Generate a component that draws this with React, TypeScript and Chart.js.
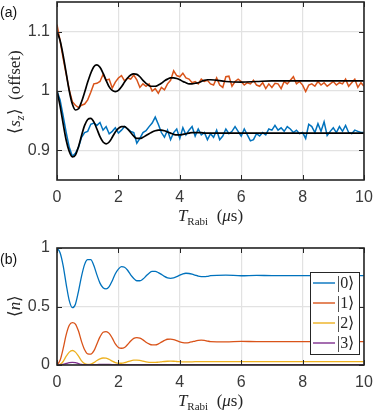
import React, { useEffect, useRef } from "react";
import { Chart, registerables } from "chart.js";
Chart.register(...registerables);

// ---- time grids ----
const tData: number[] = Array.from({ length: 101 }, (_, i) => i / 10);
const tFit: number[] = [
  0, 0.1, 0.2, 0.3, 0.4, 0.5, 0.6, 0.7, 0.8, 0.9, 1.0, 1.1, 1.2, 1.3, 1.4, 1.5, 1.6, 1.7, 1.8, 1.9,
  2.0, 2.1, 2.2, 2.3, 2.4, 2.5, 2.6, 2.7, 2.8, 2.9, 3.0, 3.1, 3.2, 3.3, 3.4, 3.5, 3.6, 3.7, 3.8, 3.9,
  4.0, 4.1, 4.2, 4.3, 4.4, 4.5, 4.6, 4.7, 4.8, 4.9, 5.0, 5.5, 6.0, 6.5, 7.0, 7.5, 8.0, 8.5, 9.0, 9.5, 10.0,
];

// ---- panel (a): measured <s_z> ----
const szOrange: number[] = [
  1.112, 1.085, 1.055, 1.028, 1.002, 0.982, 0.976, 0.972, 0.976, 0.978,
  0.985, 0.998, 1.012, 1.013, 1.016, 1.028, 1.018, 1.02, 1.005, 1.015,
  1.022, 1.026, 1.017, 1.022, 1.02, 1.027, 1.019, 1.006, 1.012, 1.008,
  1.012, 1.0, 1.004, 0.996, 1.006, 1.002, 1.012, 1.018, 1.034, 1.026,
  1.024, 1.03, 1.022, 1.02, 1.014, 1.016, 1.012, 1.02, 1.016, 1.018,
  1.012, 1.01, 1.022, 1.01, 1.006, 1.024, 1.025, 1.008, 1.016, 1.02,
  1.016, 1.01, 1.014, 1.012, 1.018, 1.01, 1.008, 1.014, 1.004, 1.012,
  1.006, 1.013, 1.012, 1.004, 1.016, 1.012, 1.018, 1.024, 1.012, 1.016,
  1.01, 0.999, 1.01, 1.012, 1.008, 1.016, 1.01, 1.014, 1.008, 1.012,
  1.016, 1.01, 1.014, 1.012, 1.02, 1.008, 1.014, 1.02, 1.006, 1.014, 1.008,
];
const szBlue: number[] = [
  1.0, 0.985, 0.958, 0.93, 0.905, 0.89, 0.895, 0.905, 0.922, 0.93,
  0.932, 0.944, 0.946, 0.942, 0.947, 0.934, 0.94, 0.928, 0.932, 0.938,
  0.929, 0.934, 0.94, 0.936, 0.932, 0.93, 0.912, 0.92, 0.93, 0.933,
  0.94, 0.946, 0.956, 0.944, 0.93, 0.922, 0.934, 0.918, 0.93, 0.936,
  0.92, 0.938, 0.926, 0.934, 0.94, 0.924, 0.936, 0.926, 0.93, 0.918,
  0.928, 0.922, 0.934, 0.918, 0.924, 0.936, 0.928, 0.932, 0.94, 0.932,
  0.924, 0.936, 0.926, 0.916, 0.918, 0.928, 0.924, 0.93, 0.926, 0.936,
  0.934, 0.942, 0.934, 0.938, 0.932, 0.94, 0.936, 0.93, 0.934, 0.928,
  0.93, 0.92, 0.944, 0.94, 0.93, 0.945, 0.932, 0.948, 0.925, 0.932,
  0.938, 0.93, 0.94, 0.932, 0.942, 0.93, 0.928, 0.934, 0.932, 0.93, 0.93,
];
const fitUpper: number[] = [
  1.1, 1.085, 1.06, 1.03, 1.0, 0.978, 0.968, 0.97, 0.982, 0.998,
  1.015, 1.03, 1.041, 1.044, 1.04, 1.03, 1.018, 1.007, 1.001, 0.999,
  1.001, 1.007, 1.015, 1.022, 1.027, 1.029, 1.028, 1.024, 1.018, 1.013,
  1.009, 1.008, 1.008, 1.01, 1.013, 1.017, 1.02, 1.022, 1.022, 1.021,
  1.019, 1.016, 1.014, 1.012, 1.012, 1.013, 1.014, 1.016, 1.018, 1.019,
  1.019, 1.016, 1.015, 1.016, 1.017, 1.017, 1.017, 1.017, 1.017, 1.017, 1.017,
];
const fitLower: number[] = [
  1.0, 0.975, 0.945, 0.917, 0.898, 0.889, 0.892, 0.906, 0.925, 0.942,
  0.952, 0.954, 0.948, 0.936, 0.923, 0.914, 0.911, 0.914, 0.922, 0.931,
  0.937, 0.94, 0.94, 0.936, 0.93, 0.924, 0.92, 0.92, 0.922, 0.925,
  0.928, 0.931, 0.933, 0.934, 0.934, 0.933, 0.931, 0.929, 0.927, 0.926,
  0.926, 0.927, 0.928, 0.929, 0.93, 0.93, 0.93, 0.93, 0.929, 0.929,
  0.929, 0.929, 0.929, 0.929, 0.929, 0.929, 0.929, 0.929, 0.929, 0.929, 0.929,
];

// ---- panel (b): populations ----
const pop0: number[] = [
  1.0, 0.96, 0.85, 0.69, 0.55, 0.49, 0.52, 0.63, 0.76, 0.86,
  0.9, 0.9, 0.85, 0.77, 0.7, 0.66, 0.65, 0.67, 0.72, 0.78,
  0.82, 0.84, 0.835, 0.81, 0.77, 0.74, 0.72, 0.72, 0.735, 0.76,
  0.785, 0.8, 0.8, 0.79, 0.775, 0.757, 0.745, 0.741, 0.745, 0.755,
  0.768, 0.779, 0.784, 0.782, 0.776, 0.768, 0.76, 0.756, 0.755, 0.758,
  0.763, 0.768, 0.763, 0.766, 0.764, 0.764, 0.764, 0.764, 0.764, 0.764, 0.764,
];
const pop1: number[] = [
  0.0, 0.04, 0.14, 0.26, 0.34, 0.362, 0.35, 0.29, 0.2, 0.13,
  0.095, 0.093, 0.12, 0.18, 0.24, 0.28, 0.285, 0.27, 0.23, 0.18,
  0.15, 0.143, 0.15, 0.175, 0.205, 0.228, 0.234, 0.23, 0.215, 0.195,
  0.18, 0.172, 0.172, 0.18, 0.195, 0.21, 0.22, 0.221, 0.217, 0.208,
  0.198, 0.191, 0.189, 0.192, 0.198, 0.205, 0.21, 0.212, 0.21, 0.205,
  0.2, 0.198, 0.202, 0.2, 0.2, 0.2, 0.2, 0.2, 0.2, 0.2, 0.2,
];
const pop2: number[] = [
  0.0, 0.005, 0.03, 0.075, 0.11, 0.124, 0.11, 0.075, 0.035, 0.012,
  0.006, 0.008, 0.02, 0.038, 0.053, 0.06, 0.058, 0.048, 0.033, 0.021,
  0.015, 0.015, 0.02, 0.028, 0.036, 0.041, 0.042, 0.039, 0.033, 0.027,
  0.023, 0.022, 0.022, 0.024, 0.027, 0.03, 0.032, 0.033, 0.032, 0.03,
  0.028, 0.027, 0.026, 0.026, 0.027, 0.028, 0.029, 0.029, 0.029, 0.028,
  0.028, 0.028, 0.028, 0.028, 0.028, 0.028, 0.028, 0.028, 0.028, 0.028, 0.028,
];
const pop3: number[] = [
  0.0, 0.001, 0.005, 0.013, 0.02, 0.023, 0.02, 0.012, 0.005, 0.002,
  0.001, 0.001, 0.002, 0.004, 0.005, 0.006, 0.006, 0.005, 0.004, 0.003,
  0.002, 0.002, 0.002, 0.003, 0.003, 0.003, 0.004, 0.004, 0.004, 0.003,
  0.003, 0.003, 0.003, 0.003, 0.003, 0.003, 0.003, 0.003, 0.003, 0.003,
  0.003, 0.003, 0.003, 0.003, 0.003, 0.003, 0.003, 0.003, 0.003, 0.003,
  0.003, 0.003, 0.003, 0.003, 0.003, 0.003, 0.003, 0.003, 0.003, 0.003, 0.003,
];
const popLabels: string[] = ["|0⟩", "|1⟩", "|2⟩", "|3⟩"];

const xTicks: number[] = [0, 2, 4, 6, 8, 10];
const yTicksA: number[] = [0.9, 1, 1.1];
const yTicksB: number[] = [0, 0.5, 1];

const BLUE = "#0072BD";
const ORANGE = "#D95319";
const YELLOW = "#EDB120";
const PURPLE = "#7E2F8E";
const AXIS = "#262626";
const TICKTXT = "#3a3a3a";
const GRID = "#e2e2e2";
const SANS = "'Liberation Sans', Arial, sans-serif";
const SERIF = "'Liberation Serif', 'Times New Roman', serif";

type Part = { text: string; font: string; dy?: number };

function richWidth(ctx: CanvasRenderingContext2D, parts: Part[]) {
  let w = 0;
  for (const p of parts) {
    ctx.font = p.font;
    w += ctx.measureText(p.text).width;
  }
  return w;
}
function drawRich(ctx: CanvasRenderingContext2D, parts: Part[], cx: number, cy: number, rot = 0) {
  ctx.save();
  ctx.translate(cx, cy);
  ctx.rotate(rot);
  ctx.fillStyle = AXIS;
  ctx.textBaseline = "alphabetic";
  ctx.textAlign = "left";
  let x = -richWidth(ctx, parts) / 2;
  for (const p of parts) {
    ctx.font = p.font;
    ctx.fillText(p.text, x, p.dy || 0);
    x += ctx.measureText(p.text).width;
  }
  ctx.restore();
}

const xTitle: Part[] = [
  { text: "T", font: `italic 17px ${SERIF}` },
  { text: "Rabi", font: `11px ${SERIF}`, dy: 4 },
  { text: "  (", font: `17px ${SERIF}` },
  { text: "μ", font: `italic 17px ${SERIF}` },
  { text: "s)", font: `17px ${SERIF}` },
];

function framePlugin(cfg: {
  yTitle: Part[];
  yTitleY: number;
  panel: string;
  panelY: number;
  legend?: { colors: string[]; labels: string[] };
}) {
  return {
    id: "frame",
    afterDatasetsDraw(chart: any) {
      const ctx: CanvasRenderingContext2D = chart.ctx;
      const { left, right, top, bottom } = chart.chartArea;
      const xs = chart.scales.x;
      const ys = chart.scales.y;
      ctx.save();
      // inner ticks
      ctx.strokeStyle = AXIS;
      ctx.lineWidth = 1;
      const tl = 5;
      for (const v of xTicks) {
        const px = Math.round(xs.getPixelForValue(v)) + 0.5;
        ctx.beginPath();
        ctx.moveTo(px, bottom);
        ctx.lineTo(px, bottom - tl);
        ctx.moveTo(px, top);
        ctx.lineTo(px, top + tl);
        ctx.stroke();
      }
      for (const t of ys.ticks) {
        const py = Math.round(ys.getPixelForValue(t.value)) + 0.5;
        ctx.beginPath();
        ctx.moveTo(left, py);
        ctx.lineTo(left + tl, py);
        ctx.moveTo(right, py);
        ctx.lineTo(right - tl, py);
        ctx.stroke();
      }
      // box
      ctx.lineWidth = 1.6;
      ctx.strokeRect(left, top, right - left, bottom - top);

      // legend
      if (cfg.legend) {
        const lx = 310, ly = top + 24, lw = 49, lh = 82;
        ctx.fillStyle = "#fff";
        ctx.fillRect(lx, ly, lw, lh);
        ctx.lineWidth = 1;
        ctx.strokeStyle = AXIS;
        ctx.strokeRect(lx + 0.5, ly + 0.5, lw, lh);
        cfg.legend.labels.forEach((lab, i) => {
          const yy = ly + 11 + i * 20;
          ctx.strokeStyle = cfg.legend!.colors[i];
          ctx.lineWidth = 1.4;
          ctx.beginPath();
          ctx.moveTo(lx + 3, yy);
          ctx.lineTo(lx + 25, yy);
          ctx.stroke();
          ctx.fillStyle = AXIS;
          ctx.font = `16px ${SERIF}`;
          ctx.textAlign = "left";
          ctx.textBaseline = "middle";
          ctx.fillText(lab, lx + 27, yy + 1);
        });
      }
      ctx.restore();

      // titles
      drawRich(ctx, xTitle, (left + right) / 2, bottom + 41);
      drawRich(ctx, cfg.yTitle, 20, cfg.yTitleY, -Math.PI / 2);
      ctx.save();
      ctx.fillStyle = "#111";
      ctx.font = `14px ${SANS}`;
      ctx.textAlign = "left";
      ctx.textBaseline = "middle";
      ctx.fillText(cfg.panel, 0, cfg.panelY);
      ctx.restore();
    },
  };
}

function baseScales(yMin: number, yMax: number, yTicks: number[], xH: number) {
  return {
    x: {
      type: "linear",
      min: 0,
      max: 10,
      afterBuildTicks: (s: any) => {
        s.ticks = xTicks.map((v) => ({ value: v }));
      },
      afterFit: (s: any) => {
        s.height = xH;
        s.paddingLeft = 0;
        s.paddingRight = 0;
      },
      grid: { color: GRID, lineWidth: 1.2, drawTicks: false },
      border: { display: false },
      ticks: { padding: 8, color: TICKTXT, font: { family: SANS, size: 16 }, maxRotation: 0 },
    },
    y: {
      type: "linear",
      min: yMin,
      max: yMax,
      afterBuildTicks: (s: any) => {
        s.ticks = yTicks.map((v) => ({ value: v }));
      },
      afterFit: (s: any) => {
        s.width = 57;
        s.paddingTop = 0;
        s.paddingBottom = 0;
      },
      grid: { color: GRID, lineWidth: 1.2, drawTicks: false },
      border: { display: false },
      ticks: {
        padding: 7,
        color: TICKTXT,
        font: { family: SANS, size: 16 },
        callback: (v: any) => String(Math.round(v * 100) / 100),
      },
    },
  };
}

function line(xsArr: number[], ysArr: number[], color: string, width: number) {
  return {
    data: xsArr.map((x, i) => ({ x, y: ysArr[i] })),
    borderColor: color,
    backgroundColor: color,
    borderWidth: width,
    pointRadius: 0,
    fill: false,
    cubicInterpolationMode: "monotone",
  };
}

export default function App() {
  const refA = useRef<HTMLCanvasElement>(null);
  const refB = useRef<HTMLCanvasElement>(null);

  useEffect(() => {
    const common = {
      responsive: false,
      animation: false,
      devicePixelRatio: 1,
      plugins: { legend: { display: false }, tooltip: { enabled: false } },
      events: [],
    };
    const chartA = new Chart(refA.current!, {
      type: "line",
      data: {
        datasets: [
          line(tFit, fitUpper, "#000", 1.7),
          line(tFit, fitLower, "#000", 1.7),
          { ...line(tData, szOrange, ORANGE, 1.5), cubicInterpolationMode: "default", tension: 0 },
          { ...line(tData, szBlue, BLUE, 1.5), cubicInterpolationMode: "default", tension: 0 },
        ],
      } as any,
      options: {
        ...common,
        layout: { padding: { left: 0, right: 10, top: 2, bottom: 0 } },
        scales: baseScales(0.85, 1.15, yTicksA, 50),
      } as any,
      plugins: [
        framePlugin({
          yTitle: [
            { text: "⟨", font: `17px ${SERIF}` },
            { text: "s", font: `italic 17px ${SERIF}` },
            { text: "z", font: `italic 12px ${SERIF}`, dy: 4 },
            { text: "⟩  (offset)", font: `17px ${SERIF}` },
          ],
          yTitleY: 92,
          panel: "(a)",
          panelY: 13,
        }),
      ] as any,
    });
    const chartB = new Chart(refB.current!, {
      type: "line",
      data: {
        datasets: [
          line(tFit, pop3, PURPLE, 1.3),
          line(tFit, pop2, YELLOW, 1.3),
          line(tFit, pop1, ORANGE, 1.3),
          line(tFit, pop0, BLUE, 1.3),
        ],
      } as any,
      options: {
        ...common,
        layout: { padding: { left: 0, right: 10, top: 18, bottom: 0 } },
        scales: baseScales(0, 1, yTicksB, 46),
      } as any,
      plugins: [
        framePlugin({
          yTitle: [
            { text: "⟨", font: `17px ${SERIF}` },
            { text: "n", font: `italic 17px ${SERIF}` },
            { text: "⟩", font: `17px ${SERIF}` },
          ],
          yTitleY: 76,
          panel: "(b)",
          panelY: 30,
          legend: { colors: [BLUE, ORANGE, YELLOW, PURPLE], labels: popLabels },
        }),
      ] as any,
    });
    return () => {
      chartA.destroy();
      chartB.destroy();
    };
  }, []);

  return (
    <div style={{ position: "absolute", left: 0, top: 0, width: 374, height: 411, background: "#fff" }}>
      <canvas ref={refA} width={374} height={230} style={{ display: "block", width: 374, height: 230 }} />
      <canvas ref={refB} width={374} height={181} style={{ display: "block", width: 374, height: 181 }} />
    </div>
  );
}
